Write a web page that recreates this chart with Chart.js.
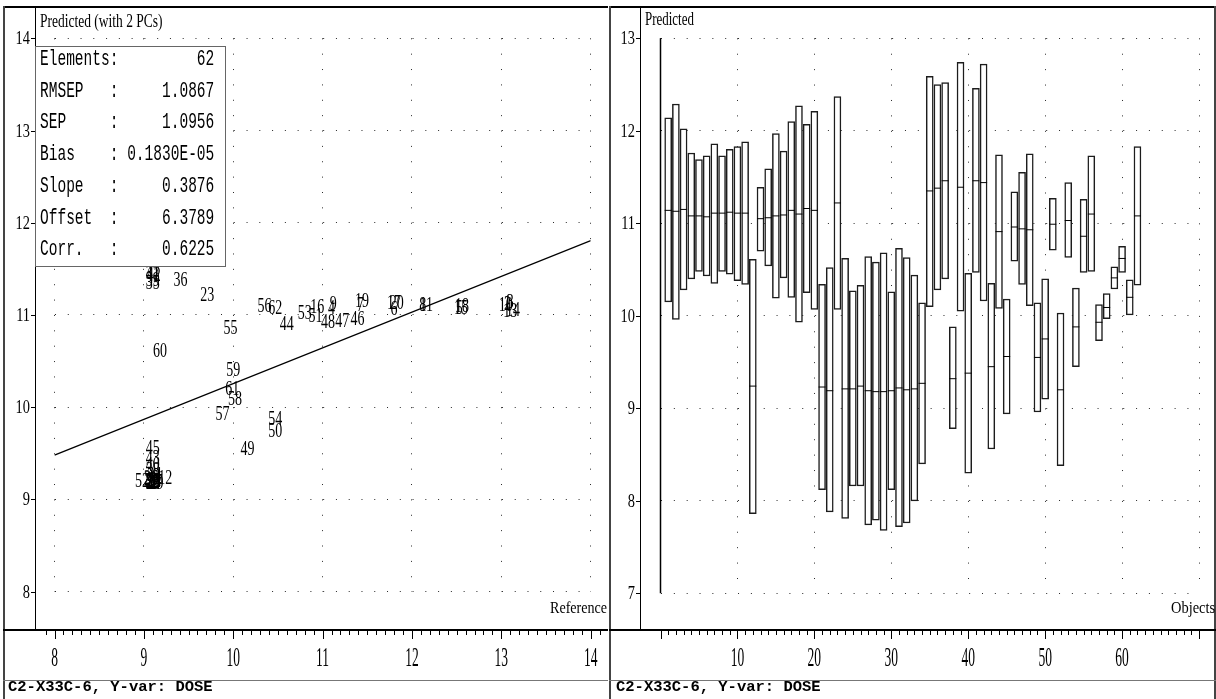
<!DOCTYPE html>
<html>
<head>
<meta charset="utf-8">
<title>C2-X33C-6, Y-var: DOSE</title>
<script src="https://cdn.jsdelivr.net/npm/chart.js@4.4.1/dist/chart.umd.min.js"></script>
<style>
  html, body { margin: 0; background: #fff; }
  #page { position: relative; width: 1216px; height: 699px; overflow: hidden; background: #fff; }
  #page canvas { position: absolute; top: 0; }
  #left-chart { left: 0; }
  #right-chart { left: 608px; }
  .lbl { position: absolute; white-space: pre; line-height: 1; color: #000; transform-origin: 0 0; }
  .serif { font-family: "Liberation Serif", "Times New Roman", serif; }
  .mono { font-family: "Liberation Mono", "Courier New", monospace; }
  #stats { position: absolute; left: 35px; top: 46px; width: 189px; height: 219px;
           border: 1px solid #666; background: #fff; }
</style>
</head>
<body>
<div id="page">
  <canvas id="left-chart" width="608" height="699"></canvas>
  <canvas id="right-chart" width="608" height="699"></canvas>
  <div id="stats"></div>
</div>
<script>
  // Objects 1..62: reference dose, predicted dose and the deviation interval
  const objectIds = [
    1, 2, 3, 4, 5, 6, 7, 8, 9, 10, 11, 12, 13, 14, 15, 16, 17, 18, 19, 20,
    21, 22, 23, 24, 25, 26, 27, 28, 29, 30, 31, 32, 33, 34, 35, 36, 37, 38, 39, 40,
    41, 42, 43, 44, 45, 46, 47, 48, 49, 50, 51, 52, 53, 54, 55, 56, 57, 58, 59, 60,
    61, 62,
  ];
  const reference = [
    13.07, 13.07, 13.10, 11.10, 12.53, 11.80, 11.42, 12.12, 11.12, 13.05,
    12.16, 9.24, 13.10, 13.13, 12.55, 10.94, 11.80, 12.56, 11.44, 11.83,
    9.08, 9.10, 9.71, 9.12, 9.10, 9.08, 9.13, 9.10, 9.14, 9.10,
    9.12, 9.08, 9.10, 9.12, 9.10, 9.41, 9.10, 9.10, 9.10, 9.10,
    9.10, 9.11, 9.10, 10.60, 9.10, 11.39, 11.22, 11.06, 10.16, 10.47,
    10.92, 8.98, 10.80, 10.47, 9.97, 10.35, 9.88, 10.02, 10.00, 9.18,
    9.99, 10.47,
  ];
  const predicted = [
    11.14, 11.13, 11.15, 11.08, 11.08, 11.07, 11.11, 11.11, 11.12, 11.11,
    11.11, 9.24, 11.05, 11.06, 11.08, 11.09, 11.14, 11.10, 11.16, 11.14,
    9.23, 9.19, 11.22, 9.21, 9.21, 9.24, 9.19, 9.18, 9.18, 9.19,
    9.22, 9.20, 9.21, 9.27, 11.35, 11.38, 11.46, 9.32, 11.39, 9.38,
    11.46, 11.44, 9.45, 10.91, 9.56, 10.96, 10.94, 10.93, 9.55, 9.75,
    10.99, 9.20, 11.03, 9.88, 10.86, 11.10, 9.93, 10.09, 10.41, 10.62,
    10.20, 11.08,
  ];
  const devLow = [
    10.15, 9.96, 10.28, 10.40, 10.48, 10.43, 10.35, 10.48, 10.45, 10.38,
    10.34, 7.86, 10.70, 10.54, 10.19, 10.41, 10.20, 9.93, 10.25, 10.07,
    8.12, 7.88, 10.07, 7.81, 8.16, 8.16, 7.74, 7.79, 7.68, 8.12,
    7.72, 7.76, 8.00, 8.40, 10.10, 10.28, 10.40, 8.78, 10.05, 8.30,
    10.47, 10.16, 8.56, 10.08, 8.94, 10.59, 10.34, 10.11, 8.96, 9.10,
    10.71, 8.38, 10.63, 9.45, 10.47, 10.48, 9.73, 9.97, 10.29, 10.47,
    10.01, 10.33,
  ];
  const devHigh = [
    12.14, 12.29, 12.02, 11.76, 11.69, 11.73, 11.86, 11.73, 11.80, 11.83,
    11.88, 10.61, 11.39, 11.59, 11.97, 11.78, 12.10, 12.27, 12.07, 12.21,
    10.34, 10.52, 12.37, 10.62, 10.27, 10.33, 10.64, 10.58, 10.68, 10.26,
    10.73, 10.63, 10.44, 10.14, 12.59, 12.50, 12.52, 9.88, 12.74, 10.46,
    12.46, 12.72, 10.35, 11.74, 10.18, 11.34, 11.55, 11.75, 10.14, 10.40,
    11.27, 10.03, 11.44, 10.30, 11.26, 11.73, 10.12, 10.24, 10.53, 10.75,
    10.39, 11.83,
  ];

  const refTicks = [8, 9, 10, 11, 12, 13, 14];
  const predTicks = [8, 9, 10, 11, 12, 13, 14];
  const objTicks = [10, 20, 30, 40, 50, 60];
  const devTicks = [7, 8, 9, 10, 11, 12, 13];

  const statNames = ["Elements:", "RMSEP", "SEP", "Bias", "Slope", "Offset", "Corr."];
  const statValues = ["62", "1.0867", "1.0956", "0.1830E-05", "0.3876", "6.3789", "0.6225"];
  const fitSlope = parseFloat(statValues[4]);
  const fitOffset = parseFloat(statValues[5]);

  const SERIF = '"Liberation Serif", "Times New Roman", serif';

  // Squeezed text, the way the old plotting program drew its numbers
  function squeezedText(ctx, text, x, y, size, sx, align) {
    ctx.save();
    ctx.font = size + "px " + SERIF;
    ctx.textAlign = align;
    ctx.textBaseline = "alphabetic";
    ctx.translate(x, y + size * 0.33);
    ctx.scale(sx, 1);
    ctx.fillText(text, 0, 0);
    ctx.restore();
  }

  // Frame, y tick marks and labels, and the tick strip under the plot
  const panelAxes = {
    id: "panelAxes",
    afterDraw(chart, args, o) {
      const ctx = chart.ctx;
      const xs = chart.scales.x;
      const ys = chart.scales.y;
      ctx.save();
      ctx.fillStyle = "#000";

      // panel borders
      ctx.fillRect(o.outerLeft, o.top, o.right - o.outerLeft, 2);
      ctx.fillStyle = "#444";
      ctx.fillRect(o.outerLeft, o.top, 2, 699 - o.top);
      ctx.fillRect(o.right - 2, o.top, 2, 699 - o.top);
      ctx.fillStyle = "#000";
      ctx.fillRect(o.plotLeft, o.top, 1, o.plotBottom - o.top);
      ctx.fillRect(o.outerLeft, o.plotBottom, o.right - o.outerLeft, 2);
      ctx.fillStyle = "#777";
      ctx.fillRect(o.outerLeft, o.stripBottom, o.right - o.outerLeft, 1);

      // y ticks on the plot frame
      ctx.fillStyle = "#000";
      o.yMajor.forEach(function (v) {
        const py = Math.round(ys.getPixelForValue(v));
        ctx.fillRect(o.plotLeft - 4, py, 4, 1);
        squeezedText(ctx, String(v), o.plotLeft - 5, py, 18, 0.8, "right");
      });

      // x ticks hanging under the plot
      const step = o.xMinorStep;
      const v0 = Math.max(o.xFrom, xs.getValueForPixel(o.plotLeft + 4));
      const v1 = Math.min(o.xTo, xs.getValueForPixel(o.right - 4));
      for (let k = Math.ceil(v0 / step - 1e-6); k * step <= v1 + 1e-6; k++) {
        const v = k * step;
        const px = Math.round(xs.getPixelForValue(v));
        const major = Math.abs(v / o.xMajorStep - Math.round(v / o.xMajorStep)) < 1e-6;
        ctx.fillRect(px, o.plotBottom + 2, 1, major ? 8 : 4);
      }
      o.xMajor.forEach(function (v) {
        const px = xs.getPixelForValue(v);
        squeezedText(ctx, String(v), px, o.xLabelY, 27, 0.5, "center");
      });
      ctx.restore();
    },
  };

  // Object numbers written at each (reference, predicted) position
  const idLabels = {
    id: "idLabels",
    afterDatasetsDraw(chart) {
      const meta = chart.getDatasetMeta(1);
      const ctx = chart.ctx;
      ctx.save();
      ctx.fillStyle = "#000";
      meta.data.forEach(function (pt, i) {
        squeezedText(ctx, String(objectIds[i]), pt.x, pt.y, 20, 0.7, "center");
      });
      ctx.restore();
    },
  };

  function gridScale(min, max, step, dash, isX) {
    return {
      type: "linear",
      min: min,
      max: max,
      offset: false,
      ticks: { display: false, stepSize: step },
      grid: { color: "#2a2a2a", lineWidth: 1, drawTicks: false, offset: false },
      border: { display: false, dash: dash },
      afterFit: function (s) {
        if (isX) s.height = 0; else s.width = 0;
      },
    };
  }

  const scatterPoints = objectIds.map(function (id, i) {
    return { x: reference[i], y: predicted[i] };
  });

  new Chart(document.getElementById("left-chart"), {
    type: "scatter",
    data: {
      datasets: [
        {
          type: "line",
          data: [
            { x: refTicks[0], y: fitOffset + fitSlope * refTicks[0] },
            { x: refTicks[refTicks.length - 1], y: fitOffset + fitSlope * refTicks[refTicks.length - 1] },
          ],
          borderColor: "#000",
          borderWidth: 1.2,
          pointRadius: 0,
        },
        {
          data: scatterPoints,
          pointRadius: 0,
          pointHoverRadius: 0,
        },
      ],
    },
    options: {
      responsive: false,
      animation: false,
      devicePixelRatio: 1,
      layout: { autoPadding: false, padding: { left: 54.5, right: 17.3, top: 38.3, bottom: 107.5 } },
      scales: {
        x: gridScale(8, 14, 1, [1, 14.37], true),
        y: gridScale(8, 14, 1, [1, 11.77], false),
      },
      plugins: {
        legend: { display: false },
        tooltip: { enabled: false },
        panelAxes: {
          outerLeft: 3, plotLeft: 35, right: 610, top: 6, plotBottom: 629, stripBottom: 680,
          yMajor: predTicks, xMajor: refTicks, xMinorStep: 0.1, xMajorStep: 1,
          xFrom: 7.9, xTo: 14.2, xLabelY: 657,
        },
      },
    },
    plugins: [panelAxes, idLabels],
  });

  new Chart(document.getElementById("right-chart"), {
    type: "bar",
    data: {
      datasets: [
        {
          type: "line",
          data: [
            { x: 0, y: devTicks[0] },
            { x: 0, y: devTicks[devTicks.length - 1] },
          ],
          borderColor: "#000",
          borderWidth: 1.5,
          pointRadius: 0,
          clip: false,
        },
        {
          type: "scatter",
          data: objectIds.map(function (id, i) { return { x: id, y: predicted[i] }; }),
          pointStyle: "line",
          pointRadius: 3.5,
          borderColor: "#000",
          borderWidth: 1,
        },
        {
          type: "bar",
          data: objectIds.map(function (id, i) { return { x: id, y: [devLow[i], devHigh[i]] }; }),
          backgroundColor: "#fff",
          borderColor: "#1c1c1c",
          borderWidth: 1.5,
          borderSkipped: false,
          barThickness: 7,
        },
      ],
    },
    options: {
      responsive: false,
      animation: false,
      devicePixelRatio: 1,
      layout: { autoPadding: false, padding: { left: 52.5, right: 17, top: 38.3, bottom: 105.7 } },
      scales: {
        x: gridScale(0, 70, 10, [1, 14.42], true),
        y: gridScale(7, 13, 1, [1, 11.84], false),
      },
      plugins: {
        legend: { display: false },
        tooltip: { enabled: false },
        panelAxes: {
          outerLeft: 1, plotLeft: 32, right: 608, top: 6, plotBottom: 629, stripBottom: 680,
          yMajor: devTicks, xMajor: objTicks, xMinorStep: 1, xMajorStep: 10,
          xFrom: 0, xTo: 70, xLabelY: 657,
        },
      },
    },
    plugins: [panelAxes],
  });

  // Text on top of the canvases
  const page = document.getElementById("page");
  function placeText(text, cls, left, capMid, size, sx, weight) {
    const el = document.createElement("div");
    el.className = "lbl " + cls;
    el.textContent = text;
    el.style.left = left + "px";
    el.style.top = (capMid - size * 0.5) + "px";
    el.style.fontSize = size + "px";
    if (weight) el.style.fontWeight = weight;
    el.style.transform = "scaleX(" + sx + ")";
    page.appendChild(el);
    return el;
  }

  placeText("Predicted (with 2 PCs)", "serif", 40, 21, 18, 0.75);
  placeText("Predicted", "serif", 645, 19, 18, 0.72);
  placeText("Reference", "serif", 550, 608, 16, 0.88);
  placeText("Objects", "serif", 1171, 607, 17, 0.85);
  placeText("C2-X33C-6, Y-var: DOSE", "mono", 8, 688, 15.5, 1, "bold");
  placeText("C2-X33C-6, Y-var: DOSE", "mono", 616, 688, 15.5, 1, "bold");

  statNames.forEach(function (name, i) {
    const head = name.endsWith(":") ? name : name.padEnd(8) + ":";
    placeText(head + statValues[i].padStart(11), "mono", 40, 60 + 31.7 * i, 22, 0.66);
  });
</script>
</body>
</html>
